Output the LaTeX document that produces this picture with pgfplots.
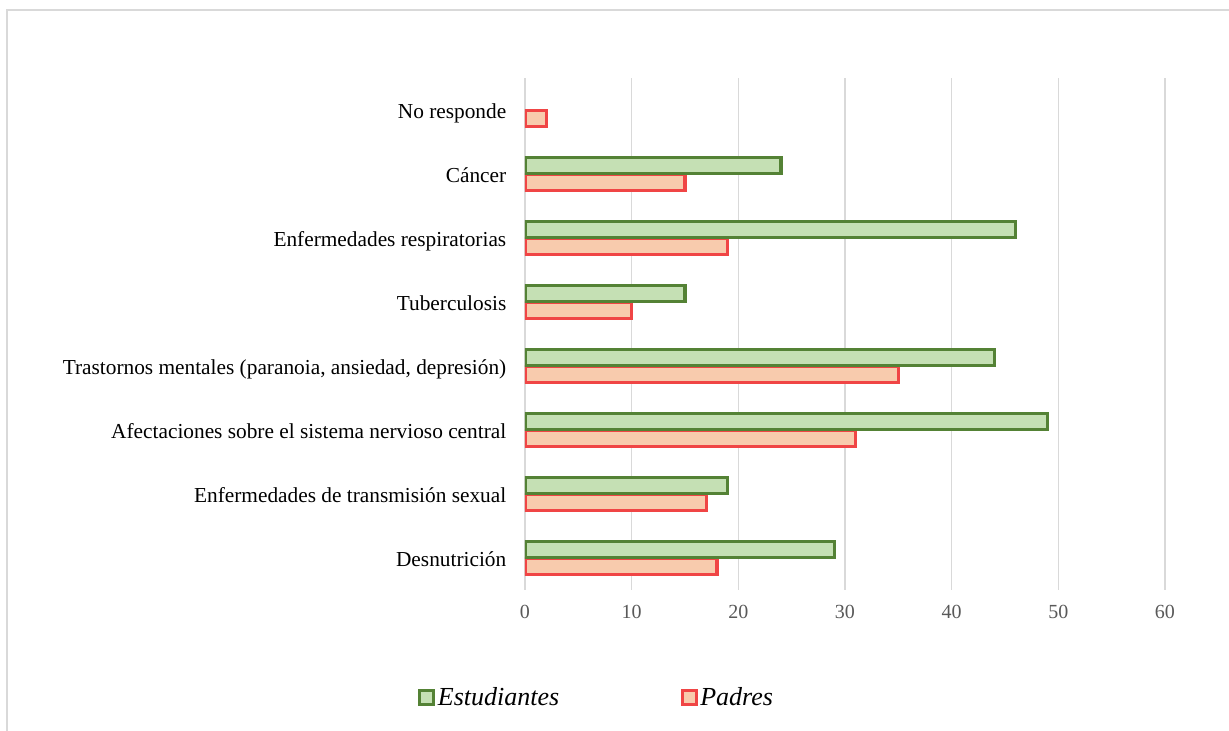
\documentclass[border=0pt]{standalone}
\usepackage{fontspec}
\setmainfont{LiberationSerif}[Extension=.ttf, UprightFont=*-Regular, ItalicFont=*-Italic, BoldFont=*-Bold, BoldItalicFont=*-BoldItalic]
\usepackage{pgfplots}
\pgfplotsset{compat=1.18}
\definecolor{gbord}{HTML}{548235}
\definecolor{gfill}{HTML}{C5E0B4}
\definecolor{rbord}{HTML}{F04545}
\definecolor{rfill}{HTML}{F8CBAD}
\definecolor{gridc}{HTML}{D9D9D9}
\definecolor{tickc}{HTML}{595959}
\pgfplotstableread{
y est pad
0 29 18
1 19 17
2 49 31
3 44 35
4 15 10
5 46 19
6 24 15
7 nan 2
}\datatab
\begin{document}
\begin{tikzpicture}[x=1pt,y=1pt]
\useasboundingbox (0,0) rectangle (921.75,548.25);
\draw[color=gridc, line width=1.5pt] (5.25,0) -- (5.25,540.75) -- (925,540.75);
\begin{axis}[
  at={(393.75pt,105.75pt)}, anchor=south west,
  width=480pt, height=384pt, scale only axis,
  xmin=0, xmax=60, ymin=-0.5, ymax=7.5,
  xtick={0,10,...,60},
  ytick={0,...,7},
  yticklabels={Desnutrición\ , Enfermedades de transmisión sexual, Afectaciones sobre el sistema nervioso central\ , {Trastornos mentales (paranoia, ansiedad, depresión)}, Tuberculosis, Enfermedades respiratorias, Cáncer, No responde},
  major tick length=0pt,
  axis line style={draw=none},
  xmajorgrids, grid style={gridc, line width=1.2pt},
  /pgf/number format/assume math mode=true,
  xticklabel style={font=\fontsize{15}{18}\selectfont, text=tickc, yshift=-8pt},
  yticklabel style={font=\fontsize{16}{19}\selectfont, text=black, xshift=-10.5pt, yshift=-3pt, text height=0.72em, text depth=0pt},
  xbar, bar width=12pt,
  legend style={at={(rel axis cs:0.1125,-0.209)}, anchor=center, draw=none, fill=none,
    legend columns=2, font=\fontsize{19.5}{22}\selectfont\itshape,
    /tikz/every even column/.append style={column sep=89pt}},
  legend cell align=left,
  legend image code/.code={\draw[#1, line width=2.25pt] (0pt,-5.25pt) rectangle (10.5pt,5.25pt);},
]
\addlegendimage{draw=gbord, fill=gfill}
\addlegendentry{Estudiantes}
\addlegendimage{draw=rbord, fill=rfill}
\addlegendentry{Padres}
\addplot[forget plot, draw=rbord, fill=rfill, line width=2.4pt, bar shift=-6.2pt] table[x=pad, y=y] {\datatab};
\addplot[forget plot, draw=gbord, fill=gfill, line width=2.4pt, bar shift=6.2pt] table[x=est, y=y] {\datatab};
\end{axis}
\end{tikzpicture}
\end{document}
